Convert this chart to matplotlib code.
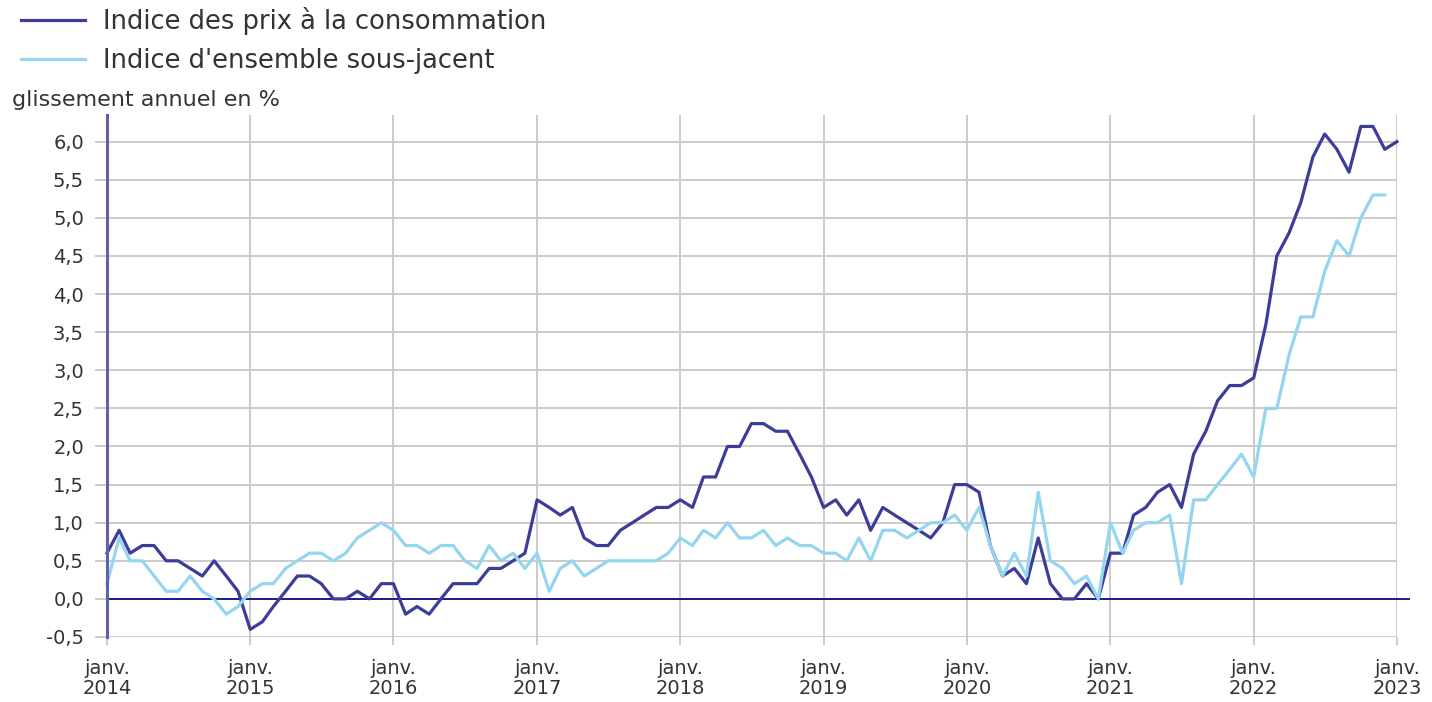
import numpy as np
import pandas as pd
import matplotlib
matplotlib.use('Agg')
import matplotlib.pyplot as plt

plt.rcParams.update({'font.family': ['DejaVu Sans'], 'text.color': '#333333'})

# glissement annuel en %, mensuel de janv. 2014 à janv. 2023
ipc = [0.6, 0.9, 0.6, 0.7, 0.7, 0.5, 0.5, 0.4, 0.3, 0.5, 0.3, 0.1,
       -0.4, -0.3, -0.1, 0.1, 0.3, 0.3, 0.2, 0.0, 0.0, 0.1, 0.0, 0.2,
       0.2, -0.2, -0.1, -0.2, 0.0, 0.2, 0.2, 0.2, 0.4, 0.4, 0.5, 0.6,
       1.3, 1.2, 1.1, 1.2, 0.8, 0.7, 0.7, 0.9, 1.0, 1.1, 1.2, 1.2,
       1.3, 1.2, 1.6, 1.6, 2.0, 2.0, 2.3, 2.3, 2.2, 2.2, 1.9, 1.6,
       1.2, 1.3, 1.1, 1.3, 0.9, 1.2, 1.1, 1.0, 0.9, 0.8, 1.0, 1.5,
       1.5, 1.4, 0.7, 0.3, 0.4, 0.2, 0.8, 0.2, 0.0, 0.0, 0.2, 0.0,
       0.6, 0.6, 1.1, 1.2, 1.4, 1.5, 1.2, 1.9, 2.2, 2.6, 2.8, 2.8,
       2.9, 3.6, 4.5, 4.8, 5.2, 5.8, 6.1, 5.9, 5.6, 6.2, 6.2, 5.9,
       6.0]
isj = [0.2, 0.8, 0.5, 0.5, 0.3, 0.1, 0.1, 0.3, 0.1, 0.0, -0.2, -0.1,
       0.1, 0.2, 0.2, 0.4, 0.5, 0.6, 0.6, 0.5, 0.6, 0.8, 0.9, 1.0,
       0.9, 0.7, 0.7, 0.6, 0.7, 0.7, 0.5, 0.4, 0.7, 0.5, 0.6, 0.4,
       0.6, 0.1, 0.4, 0.5, 0.3, 0.4, 0.5, 0.5, 0.5, 0.5, 0.5, 0.6,
       0.8, 0.7, 0.9, 0.8, 1.0, 0.8, 0.8, 0.9, 0.7, 0.8, 0.7, 0.7,
       0.6, 0.6, 0.5, 0.8, 0.5, 0.9, 0.9, 0.8, 0.9, 1.0, 1.0, 1.1,
       0.9, 1.2, 0.7, 0.3, 0.6, 0.3, 1.4, 0.5, 0.4, 0.2, 0.3, 0.0,
       1.0, 0.6, 0.9, 1.0, 1.0, 1.1, 0.2, 1.3, 1.3, 1.5, 1.7, 1.9,
       1.6, 2.5, 2.5, 3.2, 3.7, 3.7, 4.3, 4.7, 4.5, 5.0, 5.3, 5.3]
months = pd.date_range('2014-01-01', '2023-01-01', freq='MS')
years = pd.date_range('2014-01-01', '2023-01-01', freq='YS')
yticks = np.arange(-0.5, 6.01, 0.5)

labels = ["Indice des prix à la consommation", "Indice d'ensemble sous-jacent"]
c_ipc, c_isj = '#3d3d99', '#95d5ef'
grid_c = '#cbcbcb'

fig = plt.figure(figsize=(14.32, 7.02), dpi=100)
ax = fig.add_axes([0.0747, 0.0926, 0.9008, 0.7436])

l1, = ax.plot(months, ipc, color=c_ipc, lw=2.3, clip_on=False, zorder=4)
l2, = ax.plot(months[:len(isj)], isj, color=c_isj, lw=2.3, clip_on=False, zorder=5)
ax.axhline(0, xmin=0, xmax=1.0093, color='#1c1c8a', lw=1.4, clip_on=False, zorder=3)

ax.set_xlim(months[0], months[-1])
ax.set_ylim(-0.5, 6.35)
ax.set_xticks(years)
ax.set_xticklabels([f"janv.\n{d.year}" for d in years], fontsize=14, linespacing=1.05)
ax.set_yticks(yticks)
ax.set_yticklabels([f"{v:.1f}".replace('.', ',') for v in yticks], fontsize=14)
ax.tick_params(axis='y', length=8.6, width=1.4, color=grid_c, pad=8, labelcolor='#333333')
ax.tick_params(axis='x', length=5.8, width=1.4, color=grid_c, pad=10, labelcolor='#333333')
ax.grid(True, color=grid_c, lw=1.4)
ax.set_axisbelow(True)
for s in ['top', 'right', 'bottom']:
    ax.spines[s].set_visible(False)
ax.spines['left'].set_color('#6262ac')
ax.spines['left'].set_linewidth(2.2)
ax.spines['left'].set_zorder(6)

fig.legend([l1, l2], labels, loc='upper left', bbox_to_anchor=(0.0126, 0.993),
           frameon=False, fontsize=18.5, handlelength=2.5, handletextpad=0.7,
           borderpad=0.1, borderaxespad=0, labelspacing=0.5)
fig.text(0.0084, 1 - 100 / 702, "glissement annuel en %", fontsize=16, va='center', ha='left')

fig.savefig('out.png', dpi=100)
